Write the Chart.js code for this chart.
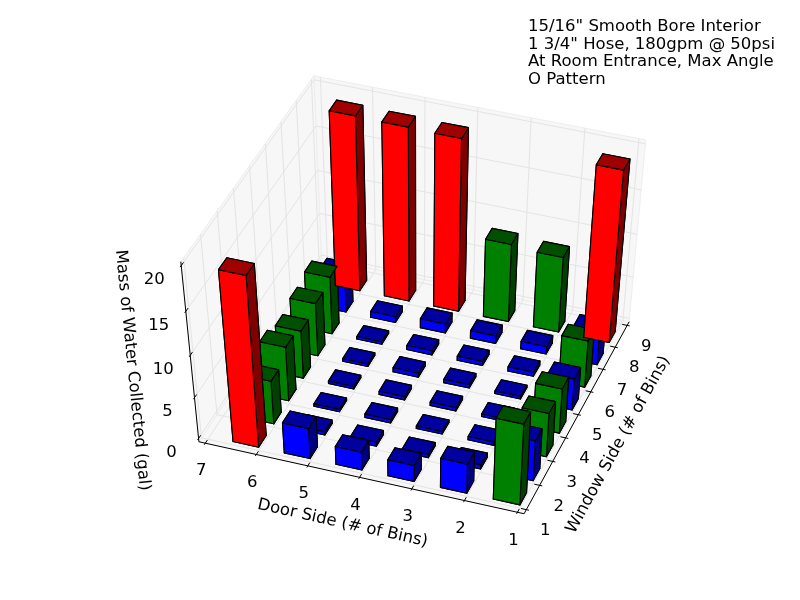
<!DOCTYPE html>
<html>
<head>
<meta charset="utf-8">
<style>
  html, body { margin: 0; padding: 0; background: #ffffff; }
  #c { display: block; }
</style>
<script src="https://cdn.jsdelivr.net/npm/chart.js@4.4.1/dist/chart.umd.min.js"></script>
</head>
<body>
<canvas id="c" width="800" height="600"></canvas>
<script>
// ---------------- data ----------------
const titleLines = [
  '15/16" Smooth Bore Interior',
  '1 3/4" Hose, 180gpm @ 50psi',
  'At Room Entrance, Max Angle',
  'O Pattern'
];
const doorBins = [1, 2, 3, 4, 5, 6];            // bar positions along door side
const windowBins = [1, 2, 3, 4, 5, 6, 7, 8];    // bar positions along window side
const doorTicks = [1, 2, 3, 4, 5, 6, 7];
const windowTicks = [1, 2, 3, 4, 5, 6, 7, 8, 9];
const massTicks = [0, 5, 10, 15, 20];
// mass of water (gal) for each window row, listed for door bins 1..6
const massWindow1 = [9.8, 3.6, 2.0, 2.2, 3.7, 19.9];
const massWindow2 = [4.9, 0.5, 0.4, 0.5, 0.4, 5.2];
const massWindow3 = [5.3, 0.4, 0.3, 0.4, 0.3, 6.5];
const massWindow4 = [5.4, 0.3, 0.4, 0.4, 0.3, 5.7];
const massWindow5 = [3.8, 0.3, 0.4, 0.5, 0.3, 6.3];
const massWindow6 = [5.6, 0.5, 0.5, 0.5, 0.3, 6.8];
const massWindow7 = [4.1, 0.9, 0.9, 1.1, 0.7, 4.6];
const massWindow8 = [19.8, 8.9, 9.2, 19.8, 19.9, 20.0];
const massRows = [massWindow1, massWindow2, massWindow3, massWindow4,
                  massWindow5, massWindow6, massWindow7, massWindow8];
const axisLabels = { door: 'Door Side (# of Bins)', window: 'Window Side (# of Bins)', mass: 'Mass of Water Collected (gal)' };

// ---------------- view / style ----------------
const VIEW = { elev: 48, azim: -160.2, dist: 10 };
const LIMS = { win: [1, 9], door: [1, 7], mass: [0, 20] };
const BAR_W = 0.5;
const FONT = '16.5px "DejaVu Sans", sans-serif';

function barColor(v) {
  if (v >= 15) return [255, 0, 0];
  if (v >= 5) return [0, 128, 0];
  return [0, 0, 255];
}
function rgb(c, f) {
  return 'rgb(' + Math.round(c[0] * f) + ',' + Math.round(c[1] * f) + ',' + Math.round(c[2] * f) + ')';
}

// ---------------- projection (matplotlib-like) ----------------
function sub(a, b) { return [a[0] - b[0], a[1] - b[1], a[2] - b[2]]; }
function dot(a, b) { return a[0] * b[0] + a[1] * b[1] + a[2] * b[2]; }
function cross(a, b) { return [a[1] * b[2] - a[2] * b[1], a[2] * b[0] - a[0] * b[2], a[0] * b[1] - a[1] * b[0]]; }
function nrm(a) { const m = Math.hypot(a[0], a[1], a[2]); return [a[0] / m, a[1] / m, a[2] / m]; }

function makeProjector() {
  const re = VIEW.elev * Math.PI / 180, ra = VIEW.azim * Math.PI / 180;
  const R = [0.5, 0.5, 0.5];
  const E = [R[0] + Math.cos(ra) * Math.cos(re) * VIEW.dist,
             R[1] + Math.sin(ra) * Math.cos(re) * VIEW.dist,
             R[2] + Math.sin(re) * VIEW.dist];
  const n = nrm(sub(E, R));
  const u = nrm(cross([0, 0, 1], n));
  const v = cross(n, u);
  // X = window side, Y = door side, Z = mass
  return function (X, Y, Z) {
    const p = [(X - LIMS.win[0]) / (LIMS.win[1] - LIMS.win[0]),
               (Y - LIMS.door[0]) / (LIMS.door[1] - LIMS.door[0]),
               (Z - LIMS.mass[0]) / (LIMS.mass[1] - LIMS.mass[0])];
    const d = sub(p, E);
    const w = -dot(n, d);
    return { tx: dot(u, d) / w, ty: dot(v, d) / w, tz: -VIEW.dist / w };
  };
}

const bar3dPlugin = {
  id: 'bar3d',
  beforeDraw(chart) {
    const c = chart.ctx;
    c.save();
    c.fillStyle = '#ffffff';
    c.fillRect(0, 0, chart.width, chart.height);
    c.restore();
  },
  afterDraw(chart) {
    const ctx = chart.ctx;
    const sx = chart.scales.x, sy = chart.scales.y;
    const proj = makeProjector();
    const P = (X, Y, Z) => {
      const q = proj(X, Y, Z);
      return { x: sx.getPixelForValue(q.tx), y: sy.getPixelForValue(q.ty), z: q.tz };
    };
    // extended box (matplotlib pads each axis by range/48)
    const ext = (l) => { const d = (l[1] - l[0]) / 12; return [l[0] - d / 4, l[1] + d / 4, d]; };
    const [x0, x1, dX] = ext(LIMS.win);
    const [y0, y1, dY] = ext(LIMS.door);
    const [z0, z1, dZ] = ext(LIMS.mass);

    const poly = (pts, fill, stroke, lw) => {
      ctx.beginPath();
      pts.forEach((p, i) => i ? ctx.lineTo(p.x, p.y) : ctx.moveTo(p.x, p.y));
      ctx.closePath();
      if (fill) { ctx.fillStyle = fill; ctx.fill(); }
      if (stroke) { ctx.strokeStyle = stroke; ctx.lineWidth = lw; ctx.stroke(); }
    };
    const line = (a, b, color, lw) => {
      ctx.beginPath(); ctx.moveTo(a.x, a.y); ctx.lineTo(b.x, b.y);
      ctx.strokeStyle = color; ctx.lineWidth = lw; ctx.stroke();
    };

    ctx.save();
    ctx.lineJoin = 'round';
    // ---- panes ----
    const paneFill = '#f7f7f7';
    poly([P(x0, y0, z0), P(x1, y0, z0), P(x1, y1, z0), P(x0, y1, z0)], paneFill, '#eeeeee', 1);
    poly([P(x1, y0, z0), P(x1, y1, z0), P(x1, y1, z1), P(x1, y0, z1)], paneFill, '#eeeeee', 1);
    poly([P(x0, y1, z0), P(x1, y1, z0), P(x1, y1, z1), P(x0, y1, z1)], paneFill, '#eeeeee', 1);
    // ---- grid ----
    const gc = '#e4e4e4';
    windowTicks.forEach(t => {
      line(P(t, y0, z0), P(t, y1, z0), gc, 1);
      line(P(t, y1, z0), P(t, y1, z1), gc, 1);
    });
    doorTicks.forEach(t => {
      line(P(x0, t, z0), P(x1, t, z0), gc, 1);
      line(P(x1, t, z0), P(x1, t, z1), gc, 1);
    });
    massTicks.forEach(t => {
      line(P(x0, y1, t), P(x1, y1, t), gc, 1);
      line(P(x1, y0, t), P(x1, y1, t), gc, 1);
    });
    // ---- axes lines, ticks, labels ----
    const k = '#000000';
    line(P(x0, y0, z0), P(x0, y1, z0), k, 1);   // door axis (front)
    line(P(x0, y0, z0), P(x1, y0, z0), k, 1);   // window axis (right)
    line(P(x0, y1, z0), P(x0, y1, z1), k, 1);   // mass axis (left)
    ctx.fillStyle = '#000';
    ctx.font = FONT;
    ctx.textAlign = 'center';
    ctx.textBaseline = 'middle';
    doorTicks.forEach(t => {
      line(P(x0 - 0.1 * dX, t, z0), P(x0 + 0.2 * dX, t, z0), k, 1);
      const a = P(x0, t, z0);
      ctx.fillText(String(t), a.x - 4, a.y + 28);
    });
    windowTicks.forEach(t => {
      line(P(t, y0 - 0.1 * dY, z0), P(t, y0 + 0.2 * dY, z0), k, 1);
      const a = P(t, y0, z0);
      ctx.fillText(String(t), a.x + 19, a.y + 21);
    });
    massTicks.forEach(t => {
      line(P(x0 - 0.1 * dX, y1, t), P(x0 + 0.2 * dX, y1, t), k, 1);
      const a = P(x0, y1, t);
      ctx.fillText(String(t), a.x - 27, a.y + 14);
    });
    // axis titles
    const rotText = (txt, at, ang) => {
      ctx.save(); ctx.translate(at.x, at.y); ctx.rotate(ang * Math.PI / 180);
      ctx.fillText(txt, 0, 0); ctx.restore();
    };
    {
      const a = P(x0, y1, z0), b = P(x0, y0, z0);
      const ang = Math.atan2(b.y - a.y, b.x - a.x) * 180 / Math.PI;
      const m = P(x0, (y0 + y1) / 2, z0);
      rotText(axisLabels.door, { x: m.x - 17, y: m.y + 46 }, ang);
    }
    {
      const a = P(x0, y0, z0), b = P(x1, y0, z0);
      const ang = Math.atan2(b.y - a.y, b.x - a.x) * 180 / Math.PI;
      const m = P((x0 + x1) / 2, y0, z0);
      rotText(axisLabels.window, { x: m.x + 40, y: m.y + 30 }, ang);
    }
    {
      const a = P(x0, y1, z1), b = P(x0, y1, z0);
      const ang = Math.atan2(b.y - a.y, b.x - a.x) * 180 / Math.PI;
      const m = P(x0, y1, (z0 + z1) / 2);
      rotText(axisLabels.mass, { x: m.x - 58, y: m.y + 15 }, ang);
    }

    // ---- bars (all faces depth-sorted together) ----
    const faces = [];
    windowBins.forEach((wpos, wi) => {
      doorBins.forEach((dpos, di) => {
        const h = massRows[wi][di];
        const col = barColor(h);
        const X0 = wpos, X1 = wpos + BAR_W, Y0 = dpos, Y1 = dpos + BAR_W;
        const c = [
          [X0, Y0, 0], [X1, Y0, 0], [X1, Y1, 0], [X0, Y1, 0],
          [X0, Y0, h], [X1, Y0, h], [X1, Y1, h], [X0, Y1, h]
        ].map(p => P(p[0], p[1], p[2]));
        const add = (idx, f) => {
          const pts = idx.map(i => c[i]);
          const zavg = pts.reduce((s, p) => s + p.z, 0) / pts.length;
          faces.push({ pts, z: zavg, fill: rgb(col, f) });
        };
        add([0, 1, 2, 3], 0.625);  // bottom
        add([4, 5, 6, 7], 0.625);  // top
        add([0, 3, 7, 4], 1.0);    // window-min face
        add([1, 2, 6, 5], 1.0);    // window-max face
        add([0, 1, 5, 4], 0.5);    // door-min face
        add([3, 2, 6, 7], 0.5);    // door-max face
      });
    });
    faces.sort((a, b) => b.z - a.z);
    faces.forEach(f => poly(f.pts, f.fill, '#000000', 1.1));

    // ---- title text ----
    ctx.textAlign = 'left';
    ctx.textBaseline = 'alphabetic';
    ctx.fillStyle = '#000';
    titleLines.forEach((t, i) => ctx.fillText(t, 528, 31 + i * 17.7));
    ctx.restore();
  }
};

new Chart(document.getElementById('c'), {
  type: 'scatter',
  data: { datasets: [{ data: [], pointRadius: 0 }] },
  options: {
    responsive: false,
    animation: false,
    devicePixelRatio: 1,
    layout: { padding: { left: 100, right: 80, top: 60, bottom: 60 } },
    scales: {
      x: { type: 'linear', min: -0.095, max: 0.09, display: false },
      y: { type: 'linear', min: -0.095, max: 0.09, display: false }
    },
    plugins: { legend: { display: false }, tooltip: { enabled: false } },
    events: []
  },
  plugins: [bar3dPlugin]
});
</script>
</body>
</html>
